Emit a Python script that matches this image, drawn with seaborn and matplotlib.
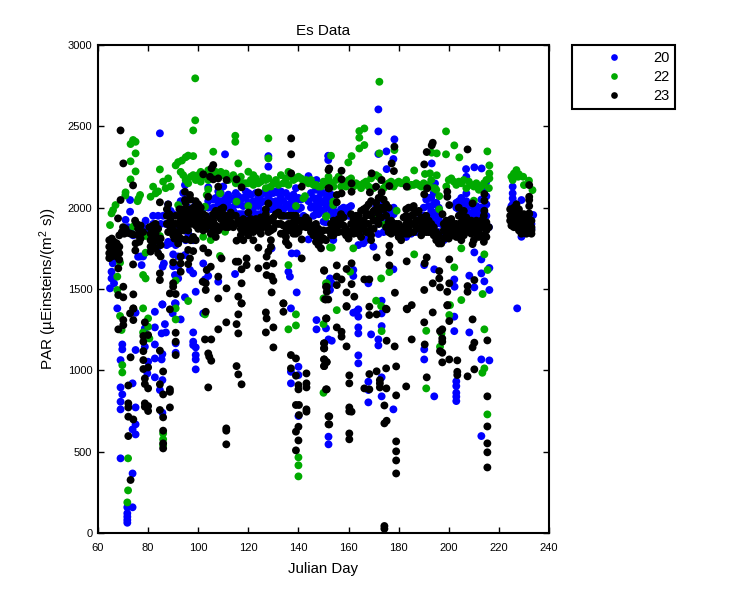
import seaborn as sns
import matplotlib.pyplot as plt
import pandas as pd

# values as (julian day, PAR)
low_20 = [(84.7,2457),(110.7,2328),(128,2317),(128,2252),(152,2317),(144,2194),(147.2,2170),(94.7,2139),(104,2125),(72.8,2047),
    (178.3,2420),(171.9,2604),(171.9,2469),(175.1,2346),(171.9,2330),(177.9,2299),(175.2,2237),(151.9,2319),(151.9,2293),(193.2,2272),
    (206.9,2237),(210.2,2248),(213.1,2241),(207,2190),(215,2160),(194.5,2149),(214.4,2108),(207,2088),(225.5,2129),(225.5,2088),
    (225.5,2057),(225.7,2026),(233.7,1955),(229,2047),(229,1821),
    (67.7,1381),(75,1354),(82.7,1360),(85.7,1405),(91,1411),(89.8,1350),(93,1313),(82.7,1264),(86.7,1284),(85.4,1227),(87.1,1233),
    (78.7,1258),(82.7,1159),(78.7,1145),(75,1125),(69.7,1159),(69.7,1129),(69,1063),(82.7,1073),(85.4,1067),(80,1053),(85.7,1100),
    (79.7,981),(82.7,957),(85.7,940),(73.8,920),(69,895),(69.7,852),(69,807),(69,760),(75,772),(84.7,879),(85.7,739),(75,668),
    (73.8,637),(75,606),(69,459),(73.8,366),(73.8,158),(71.7,158),(71.7,121),(71.7,100),(71.7,80),(71.7,63),
    (98,1233),(98,1176),(98,1155),(99,1141),(99,1094),(99,1067),(99,1006),(102,1350),(91,1166),(91,1108),(137,1381),(137,991),
    (137,920),(140,1022),(140,971),(140,719),(147.2,1309),(147.2,1252),(151,1258),(152,1190),(152,592),(152,545),
    (153.3,1182),(163,1360),(161.9,1354),(163.9,1375),(163.9,1330),(163.9,1264),(163.9,1227),(163.9,1092),(163.9,1043),(169,1221),
    (171.9,1190),(171.9,1153),(173.2,1272),(173.2,1350),(173.2,1428),(167.9,930),(167.9,879),(167.9,803),(173.2,957),(173.2,840),
    (177.9,760),(190.2,1129),(190.2,1067),(194.2,840),(202.2,1330),(202.2,1241),(208.2,1233),(213,1067),(216.2,1061),(213,596),
    (227.3,1381),(203,932),(203,903),(203,862),(203,838),(203,811),
    (153.9,1801),(171.9,1838),(169.9,1760),(165.9,1781),(163.9,1770),(210.2,1725),(213,1682),(216.2,1629),(213,1596),(208.2,1582),
    (214.2,1547),(210.2,1510),(216.2,1494),(202.3,1514),(202.2,1559),(194.2,1621),(190.2,1647),(177.9,1621),(161.9,1617),(161.9,1580),
    (167.9,1535),(152.6,1565),(153.3,1535),(152.6,1494),
    (65.9,1658),(65.4,1606),(65.4,1565),(64.8,1504),(66.4,1535),(65.8,1678),(77.4,1647),(76,1698),(85.8,1637),(86.3,1657),(88.7,1780),
    (87.4,1770),(90,1713),(94.7,1709),(90.7,1586),(92,1565),(96.7,1617),(98,1596),(102,1657),(102.7,1559),(104,1580),(108,1545),
    (114.7,1592),(99,1483),(94.7,1449),(90.7,1412),(85.7,1405),(139.3,1479),(144,1805),(150,1914),(136,1606),(136.6,1576),(137.3,1719),
    (139.3,1719),(129.3,1750)]
band_20 = [(72.8,1975),(71,1925),(72,1880),(73,1850),(74,1830),(79,1920),(78,1880),(79,1850),(77,1700),(78,1700),(80,1830),
    (82,1950),(82,1900),(84,1950),(85,1900),(86,1950),(87,1900),(83,1800),(84,1760),(88,2020),(89,1980),(90,1960),(89,1870),(88,1790),
    (90,1790),(91,1770),(92,1700),(90,1640),(92,1640),(93,2040),(94,2090),(95,2050),(94,1950),(92,1880),(96,2000),(97,1980),(98,1800),
    (96,1840),(95,1800),(99,2020),(100,1960),(102,2000),(104,2040),(104,2000),(105,1950),(105,1880),(106,2000),(107,2060),(108,2100),
    (108,2020),(109,2090),(110,2130),(111,2060),(111,2000),(112,2040),(113,2000),(114,2050),(114,1980),(115,2090),(115,2020),(116,1960),
    (117,2050),(117,1960),(118,2010),(118,1900),(119,2100),(119,2060),(120,2030),(120,1950),(121,2080),(122,2040),(122,1970),(123,2090),
    (123,2020),(124,2010),(124,1960),(125,2080),(125,2030),(126,1980),(127,2040),(127,1930),(128,2120),(128,2060),(129,2040),(129,1990),
    (130,2090),(130,2020),(131,2040),(131,1980),(132,2090),(132,2020),(133,2060),(133,1990),(134,2040),(135,2090),(135,2010),(136,2020),
    (137,2060),(137,1990),(138,2030),(139,2120),(140,2060),(140,1990),(141,2000),(142,1950),(144,2040),(145,2090),(145,2000),(146,2060),
    (147,1990),(147,2110),(148,2060),(148,2010),(149,2090),(149,2030),(150,1980),(150,2090),(151,2050),(151,2000),(152,2100),(152,2060),
    (153,2030),(153,1970),(151,1910),(154,1940),(155,1970),(155,1950),(157,1990),(158,2000),(159,1980),(160,2000),(161,1950),(161,2010),
    (165,1860),(166,1800),(167,1800),(168,1820),(170,1950),(171,2010),(172,1960),(173,2010),(173,1940),(174,1900),(175,1950),(175,1880),
    (176,1970),(176,1920),(177,1890),(178,1960),(178,2000),(179,1850),(181,1830),(183,1820),(185,1840),(187,1850),(189,1950),(190,2000),
    (191,2050),(192,2010),(193,2060),(193,1980),(194,2090),(194,1950),(195,2030),(195,1900),(196,2000),(196,1850),(197,1830),(198,1800),
    (199,1850),(198,1890),(203,2030),(203,2000),(204,2040),(205,2060),(206,1950),(206,2030),(207,1980),(208,2010),(208,1940),(209,1960),
    (210,1980),(210,1950),(211,2010),(212,1940),(212,2000),(213,2050),(213,1960),(214,1990),(215,1950),(215,2020),(216,1880),
    (225,2010),(226,2030),(232,1930),(233,1900),(233,1870),(226,1900)]
fill_20 = [(110,2040),(112,2080),(113,2060),(116,2020),(116,2070),(118,2060),(118,1960),(120,2090),(121,2010),(122,2000),(124,2060),(126,2040),
    (126,2090),(127,2090),(129,2090),(131,2100),(133,2100),(134,1990),(135,1950),(136,2070),(138,1980),(138,2080),(139,2040),(141,2050),
    (146,2010),(146,1950),(147,2050),(148,1960),(149,1980),(150,2040),(152,2010),(153,2080),(154,2010),(156,1960),(158,1960),(160,1950),
    (171,1940),(172,1900),(172,2020),(174,1950),(174,1850),(176,1870),(177,1950),(190,1950),(192,2060),(192,1950),(193,1920),(194,2020),
    (195,1970),(196,1930),(197,1900),(204,1990),(205,2000),(207,2040),(209,2020),(211,1960),(213,2000),(215,2070),(106,2050),(109,2040)]

low_22 = [(98.8,2795),(98.8,2537),(98,2475),(74,2416),(75,2405),(73,2391),(75,2334),(73,2285),(75,2223),(73,2174),(71,2094),(70.9,2075),
    (76.8,2078),(76.2,2057),(75.8,2040),(82,2129),(84,2100),(81,2067),(83,2088),(84.7,2235),(67,2016),(65.4,1965),(64.8,1893),(66,1985),
    (114.8,2442),(114.8,2405),(106,2344),(128,2426),(128,2303),(116,2272),(120,2221),(93.5,2290),(95,2310),(96,2320),(98,2317),
    (172.3,2774),(164.3,2471),(166.3,2487),(164.3,2430),(164.3,2364),(166.3,2385),(172.3,2334),(178.3,2354),(198.9,2469),(202.2,2383),
    (198.9,2328),(204.2,2309),(215.4,2346),(195.2,2334),(193.2,2338),(216.2,2260),(216.2,2211),(216.2,2180),(186.2,2229),(190.5,2207),
    (192.5,2211),(195.2,2199),(153,2319),(161.2,2317),(159.9,2278),
    (225,2190),(227,2231),(227.7,2190),(229.7,2190),(232,2166),(233.4,2108),(230,2139),(225.5,2170),(226,2210),(228,2205),
    (92,2016),(102.7,2006),(104,2112),(103.4,2078),(108.7,2088),(115.3,2037),(120,2010),(142.6,2071),(142,2057),(139,2010),(151,1944),
    (74,1883),(79,1826),(84.7,1826),(102,1821),(92,1785),(110.7,1852),(105,1801),(79,1723),(108.7,1703),(136,1647),(152.6,1756),
    (68.8,1662),(78,1586),(79,1565),(67.7,1576),(67.7,1494),(96,1426),(150,1442),(151,1535),(91,1551),
    (78,1381),(80,1319),(78,1233),(80,1268),(80.5,1196),(68.8,1334),(69.4,1248),(91,1381),(91,1313),(102.7,1344),(69.7,1032),(69.7,987),
    (72,459),(72,262),(71.7,188),(86,612),(86,576),(86,539),(139,1344),(139,1276),(136,1252),(140,465),(140,416),(140,348),(150,1284),(150,862),
    (155.3,1370),(171,1428),(173,1395),(173.2,1241),(200.5,1401),(200.2,1340),(205,1432),(191,1243),(197.1,1227),(196.5,1145),(191,889),
    (214.2,1252),(214.2,1012),(213.4,985),(215.4,729),(186.2,1713),(202.2,1633),(214.2,1713),(215.5,1617),(205,1750),(153.3,1754),
    (161.9,1750),(176.3,1604),(173,1565),(160.6,1606),(151.3,1535),(213.5,1469),(196.2,1990),(179.2,1981),(171.2,1934),(174.3,1895),
    (151.2,1948),(153.9,2037),(153.9,2016),(192.9,1852),(197.1,1801),(210,2043),(194.5,2119),(196.2,2071)]
band_22 = [(86,2160),(88,2180),(87,2120),(89,2130),(91,2260),(92,2280),(93,2220),(94,2200),(95,2170),(96,2150),(97,2190),(98,2200),(99,2170),
    (100,2200),(101,2220),(101,2160),(102,2190),(103,2200),(104,2170),(104,2230),(105,2210),(106,2180),(107,2220),(108,2190),(109,2220),
    (110,2200),(111,2210),(112,2170),(113,2180),(114,2200),(115,2150),(116,2160),(117,2190),(118,2150),(119,2150),(120,2150),(121,2170),
    (122,2140),(122,2200),(123,2180),(124,2150),(125,2160),(126,2190),(127,2170),(127,2120),(128,2180),(129,2130),(130,2150),(131,2170),
    (132,2140),(133,2200),(134,2150),(135,2180),(136,2140),(136,2220),(137,2190),(138,2170),(139,2180),(140,2190),(141,2180),(142,2160),
    (143,2170),(144,2150),(145,2170),(146,2140),(147,2140),(148,2130),(149,2130),(150,2160),(151,2140),(152,2170),(152,2190),(153,2150),
    (154,2130),(155,2170),(156,2190),(157,2130),(158,2150),(159,2130),(160,2170),(161,2180),(162,2130),(163,2150),(164,2140),(165,2120),
    (166,2150),(167,2160),(168,2130),(169,2180),(170,2120),(171,2200),(172,2190),(173,2170),(174,2120),(175,2140),(176,2150),(177,2160),
    (178,2130),(179,2150),(180,2160),(181,2150),(182,2150),(183,2170),(184,2130),(185,2140),(186,2140),(187,2150),(188,2140),(189,2130),
    (190,2150),(191,2120),(192,2140),(193,2170),(194,2120),(195,2110),(199,2130),(200,2170),(201,2180),(202,2160),(203,2140),(204,2160),
    (205,2150),(206,2170),(207,2120),(208,2160),(209,2140),(210,2130),(211,2150),(212,2110),(213,2130),(214,2150),(215,2170),(216,2120)]

low_23 = [(69,2475),(70.1,2272),(74,2137),(69,2047),(68,1934),(106,2262),(105.3,2242),(102,2205),(104.7,2190),(106,2174),(108,2180),
    (111.3,2170),(115.3,2174),(108,2129),(117.3,2125),(124,2094),(137.1,2426),(137.1,2328),(137.1,2211),(141.3,2129),(152,2231),(152,2119),
    (84.7,2033),(94.7,2098),(94.7,2047),(96.7,2078),(104,2067),(152.3,2241),(157.2,2227),(157.2,2174),(152.3,2119),(161.2,2149),(161.2,2098),
    (157.2,2088),(155.3,2078),(155.3,2033),(169.2,2211),(173.2,2170),(177.2,2272),(178.3,2375),(178.1,2225),(176.3,2133),(171,2129),(168.5,2094),
    (173.2,2094),(183.2,2129),(191.4,2119),(190.2,2082),(190.2,2266),(191.2,2342),(193.2,2383),(193.6,2399),(207.5,2358),(199.4,2098),
    (199.4,2067),(200.2,2016),(209.5,2026),(214.2,2084),(214.2,2043),(214.2,1981),(232.1,2139),(232.1,2067),(232.1,2047),(232.1,2010),(232.1,1965),
    (209.5,1776),(176.3,1766),(176.3,1725),(171.2,1694),(183.2,1670),(191.2,1694),(190.4,1658),(200.2,1682),(176.3,1645),(161.2,1658),
    (159.2,1623),(155.3,1645),(150.2,1615),(196.2,1610),(196.2,1565),(193.6,1535),(200.2,1535),(196.5,1510),(190.2,1494),(199.4,1483),
    (210.2,1555),(207.5,1518),(207.5,1483),(178.5,1477),(168.3,1559),(166.3,1559),(161.2,1530),(159.2,1479),(162.3,1453),(155.3,1576),
    (157.2,1559),(155.3,1524),(151.3,1514),(151.3,1483),(151.9,1436),(150.6,1436),(159.2,1395),(168.3,1391),(174.9,1379),(185.2,1401),
    (183.2,1379),(199.4,1399),
    (151,1319),(155.3,1264),(157.2,1237),(157.2,1207),(159.2,1391),(168.3,1340),(171.2,1344),(175.2,1375),(183.4,1375),(193.6,1356),
    (199.5,1401),(190.2,1295),(200.2,1303),(209.5,1313),(196.5,1241),(197.4,1252),(197.4,1196),(197.4,1176),(185.2,1190),(175.2,1182),
    (178.4,1147),(190.4,1159),(159.2,1147),(150.2,1166),(150.2,1135),(196.5,1118),(197.4,1108),(210.2,1170),(209.5,1141),(215.4,1184),
    (200.2,1067),(203.4,1061),(197.4,1049),(150.2,1067),(151.3,1051),(150.2,1026),(179,1024),(175,1012),(171.2,994),(168.3,977),(160.3,969),
    (160.3,920),(203.4,991),(203.4,971),(210.2,1006),(207.5,963),(191.2,957),(172.5,940),(172.5,920),(172.5,895),(166.3,889),(168.3,883),
    (175.1,889),(183,901),(179,846),(151.3,883),(215.4,840),(174.3,784),(160.3,772),(160.3,748),(161.2,746),(152.3,717),(152.3,668),(174.3,674),
    (175.2,690),(215.4,655),(160.3,612),(160.3,576),(179,563),(179,502),(179,446),(179,366),(215.4,551),(215.4,496),(215.4,403),(174.3,43),(174.3,26),
    (70.1,1309),(70.1,1278),(68.1,1252),(72.8,1350),(74.1,1381),(74.1,1309),(78.7,1295),(80,1217),(78.1,1211),(78.1,1176),(78.1,1118),
    (78.1,1063),(80,1018),(78.1,1008),(78.7,950),(78.7,916),(80,889),(73,1080),(72.1,907),(72.1,797),(72.1,772),(78.7,797),(78.7,776),(80,780),
    (80,750),(72.1,715),(74.1,698),(72.1,596),(73,326),(84.7,1121),(86,993),(84.7,914),(86,852),(88.7,883),(88.7,868),(88.7,772),(84.7,756),
    (86,711),(86,629),(86,551),(86,520),(88.7,1375),(91,1231),(91,1176),(91,1094),(103,1360),(102.7,1190),(105.2,1190),(108,1252),(104,1104),
    (104.4,1084),(105.2,1059),(104,895),(111.2,1295),(115.3,1284),(116,1344),(116,1227),(117.3,1411),(115.3,1026),(116,975),(117.3,914),
    (111.2,643),(111.2,629),(111.2,545),(127,1356),(127.3,1319),(127,1233),(130,1264),(130,1141),(134,1411),(134,1360),(137,1094),(139,1073),
    (137,1012),(139,967),(143.2,981),(140,909),(140,883),(143.2,920),(143.2,895),(139,787),(140.2,787),(143.2,760),(143.2,746),(140.2,725),
    (140,653),(139,623),(140,569),(139,508),(151.2,1319),(151,883),(150.3,1166),(150.3,1135),(150.3,1067),(151.2,1051),(150.3,1026),(152,717),(152,668),
    (84.7,1596),(84.7,1555),(88.7,1473),(91,1469),(90,1535),(90,1514),(93,1699),(93,1657),(93,1606),(90,1664),(96,1740),(98,1733),(96,1653),
    (96.7,1688),(104,1723),(102,1750),(103.4,1617),(105,1637),(101.8,1545),(103,1535),(103,1494),(108,1576),(108,1442),(109.3,1688),(111.3,1504),
    (115,1668),(116,1668),(116,1453),(117.3,1535),(117.3,1412),(117.3,1621),(119.3,1688),(119.3,1647),(124,1754),(124,1627),(127.3,1699),
    (127.3,1643),(130,1657),(127.3,1586),(129.3,1576),(130,1551),(129.3,1479),(134,1412),(115.3,1797),(141.3,1805),(141.3,1688),(150.3,1612),
    (151,1514),(151,1436),(74.9,1737),(74,1651),(68.1,1627),(70.1,1514),(68.1,1463),(70.1,1449),(74.1,1467),(74.1,1379)]
band_23 = [(64.5,1800),(64.5,1760),(64.5,1720),(64.5,1690),(65.5,1810),(65.5,1770),(65.5,1730),(65.5,1700),(66.5,1790),(66.5,1750),(66.5,1710),
    (67.5,1780),(67.5,1740),(67.5,1700),(68.5,1720),(68.5,1680),(68.5,1760),(68.5,1830),(69.5,1850),(70.5,1840),(71,1870),(72,1845),(73,1840),
    (74,1835),(70,1880),(74.8,1920),(75.5,1900),(76,1870),(76,1830),(76.5,1790),(77,1810),(77,1890),(75,1780),(78,1850),(80.5,1880),(81,1840),
    (81,1800),(81,1760),(81,1730),(82,1890),(82,1860),(82,1820),(82,1780),(83,1900),(83,1840),(83,1750),(84,1870),(84,1800),(84,1720),(85,1810),
    (85,1770),(85,1700),(87.5,1990),(87.5,1950),(87.5,1900),(88,2020),(89,1920),(89,1880),(90,1860),(91,1900),(91,1850),(90,1830),(92,1800),
    (92,1840),(92.5,1990),(93,1960),(93,1920),(93,1880),(94,1990),(94,1950),(94,1910),(95,2030),(95,1970),(95,1930),(95,1880),(96,1990),(96,1920),
    (92,1780),(90.5,1810),(93,1810),(95,1805),(97,1800),(99,1800),(98,1820),(97,2050),(98,2000),(98,1960),(98,1920),(99,2040),(99,1980),(99,1940),
    (99,1890),(100,2020),(100,1970),(100,1920),(101,2000),(101,1950),(101,1900),(102,1960),(102,1910),(103,1870),(103,1950),(106,1960),(106,1920),
    (107,1980),(107,1890),(108,1950),(108,1880),(109,1990),(109,1930),(110,2000),(110,1960),(110,1900),(111,1950),(111,1880),(112,1930),(113,1970),
    (113,1910),(114,1950),(114,1880),(105,1840),(106,1860),(107,1820),(108,1860),(117,1870),(117,1830),(118,1880),(118,1800),(119,1850),(120,1970),
    (120,1920),(120,1870),(120,1830),(121,1880),(122,1850),(122,1800),(123,1880),(124,1860),(124,1920),(125,1900),(125,1840),(126,1880),(127,1910),
    (127,1960),(127,1990),(128,2026),(128,1880),(128,1850),(129,1920),(130,1940),(131,1960),(132,1970),(130,1870),(129,1800),(129,1760),(128,1730),
    (133,1840),(133,1900),(134,1950),(135,1880),(135,1820),(135,1790),(136,1950),(136,1860),(136,1770),(137,1950),(137,1900),(138,1910),(138,1840),
    (139,1950),(139,1880),(140,1920),(140,1850),(143,1940),(143,1880),(144,1920),(145,1880),(145,1850),(146,1830),(146,1890),(147,1790),(147,1850),
    (148,1770),(148,1820),(149,1800),(149,1850),(149,1750),(150,1860),(153,1900),(153,1860),(153,1830),(154,1920),(154,1870),(155,1900),(155,1850),
    (156,1930),(156,1890),(157,1960),(157,1900),(158,1940),(158,1890),(159,1870),(159,1830),(160,1810),(160,1850),(161,1960),(162,1930),(162,1880),
    (162,1840),(163,1950),(163,1900),(163,1860),(164,1910),(164,1840),(165,1980),(165,1880),(165,1820),(166,1990),(166,1920),(166,1870),(167,2000),
    (167,1950),(167,1900),(168,2020),(168,1960),(169,2040),(168.5,1860),(169,1830),(169,1800),(170,1870),(171,2030),(171,1990),(172,1960),(172,2060),
    (173,2000),(174,2050),(175,2020),(174,1990),(176,2000),(176,1850),(177,1880),(177,1840),(178,1900),(178,1860),(179,1900),(179,1850),(180,1820),
    (180,1870),(181,1870),(181,1800),(182,1880),(182,1940),(183,1990),(183,1900),(183,1840),(184,2000),(184,1930),(184,1880),(185,2000),(185,1950),
    (185,1900),(186,2010),(186,1960),(186,1900),(187,1970),(187,1880),(188,1980),(188,1920),(189,1940),(189,1880),(190,1930),(190,1860),(191,1900),
    (191,1950),(192,1920),(192,1890),(193,1850),(194,1830),(195,1800),(196,1780),(197,1780),(197.5,1960),(198,1900),(198,1860),(199,1920),(199,1840),
    (200,1870),(200,1810),(201,1890),(201,1830),(202,1860),(203,1900),(203,1860),(204,2000),(204,1950),(204,1880),(205,1960),(205,1910),(205,1850),
    (206,1980),(206,1920),(206,1870),(207,1940),(207,1860),(208,1910),(208,1850),(209,1880),(209,1840),(210,1800),(210,1900),(211,1880),(211,1840),
    (212,1900),(212,1860),(213,1880),(213,1830),(214,1950),(214,1890),(214,1830),(214,1790),(215,1910),(215,1860),(224.5,1990),(224.5,1950),(224.5,1920),
    (225,1890),(226,2000),(226,1960),(226,1920),(227,2020),(227,1980),(227,1930),(228,1990),(228,1950),(228,1900),(229,1960),(229,1910),(229,1870),
    (230,1930),(230,1890),(230,1850),(231,1920),(231,1880),(231,1840),(232,1960),(232,1900),(232,1860),(233,1920),(233,1880),(233,1840)]
fill_23 = [(88,1850),(88.5,1960),(90,1900),(91,1950),(92,1900),(94,1860),(96,1860),(97,1900),(97,1950),(100,1870),(102,1860),(104,1890),(104,1930),
    (105,1900),(109,1880),(111,1910),(112,1880),(115,1900),(115,1950),(116,1920),(117,1910),(118,1930),(119,1900),(121,1930),(122,1900),(123,1930),
    (125,1940),(126,1930),(128,1930),(129,1860),(131,1900),(132,1900),(133,1950),(134,1890),(134,1840),(136,1900),(137,1860),(138,1950),(139,1840),
    (141,1920),(141,1880),(142,1900),(144,1880),(147,1900),(148,1870),(150,1810),(151,1800),(152,1860),(154,1830),(156,1850),(158,1850),(161,1900),
    (161,1850),(164,1950),(167,1850),(168,1900),(169,1950),(170,1920),(170,1980),(171,1920),(172,1900),(173,1940),(175,1950),(175,1880),(176,1910),
    (177,1920),(180,1900),(182,1840),(183,1950),(184,1840),(186,1850),(187,1920),(188,1870),(189,1830),(190,1890),(191,1850),(192,1850),(193,1900),
    (194,1880),(195,1850),(196,1830),(198,1810),(199,1880),(200,1920),(201,1930),(202,1900),(203,1820),(204,1820),(205,1800),(206,1830),(207,1900),
    (208,1880),(209,1920),(210,1860),(211,1920),(212,1820),(213,1920),(215,1820),(216,1880),(226,1880),(228,1860),(229,1840),(230,1960),(233,1860)]

series_names = ["20", "22", "23"]
series_colors = ["#0000ff", "#00aa00", "#000000"]
x_ticks = [60, 80, 100, 120, 140, 160, 180, 200, 220, 240]
y_ticks = [0, 500, 1000, 1500, 2000, 2500, 3000]

frames = []
for name, pts in zip(series_names, [low_20 + band_20 + fill_20, low_22 + band_22, low_23 + band_23 + fill_23]):
    part = pd.DataFrame(pts, columns=["day", "par"])
    part["depth"] = name
    frames.append(part)
df = pd.concat(frames, ignore_index=True)

sns.set_style("white", {"text.color": "black", "axes.labelcolor": "black"})
plt.rcParams['font.family'] = ['Liberation Sans', 'DejaVu Sans']
plt.rcParams['mathtext.default'] = 'regular'

fig = plt.figure(figsize=(7.5, 6), dpi=100)
ax = fig.add_axes([98 / 750, 1 - 533 / 600, 451 / 750, 488 / 600])
sns.scatterplot(data=df, x="day", y="par", hue="depth", hue_order=series_names,
                palette=series_colors, s=32, linewidth=0, ax=ax)

ax.set_xlim(60, 240)
ax.set_ylim(0, 3000)
ax.set_xticks(x_ticks)
ax.set_yticks(y_ticks)
ax.tick_params(direction="in", length=4.5, width=1, top=True, right=True, bottom=True, left=True,
               labelsize=8, colors="black", pad=4)
ax.tick_params(axis="x", pad=7)
for side in ax.spines.values():
    side.set_linewidth(1.5)
    side.set_color("black")
ax.set_xlabel("Julian Day", fontsize=10.8, labelpad=7)
ax.set_ylabel("PAR (µEinsteins/(m$^2$ s))", fontsize=11, labelpad=6)
ax.set_title("Es Data", fontsize=11, pad=7)

handles, labels = ax.get_legend_handles_labels()
leg = ax.legend(handles, labels, loc="upper left", bbox_to_anchor=(572 / 750, 1 - 45 / 600),
                bbox_transform=fig.transFigure, frameon=True, fancybox=False, framealpha=1,
                edgecolor="black", fontsize=10.5, handlelength=4.95, handletextpad=0.2,
                borderaxespad=0, borderpad=0.4, labelspacing=0.36, markerscale=0.85)
leg.get_frame().set_linewidth(1.5)

fig.savefig("out.png", dpi=100)
